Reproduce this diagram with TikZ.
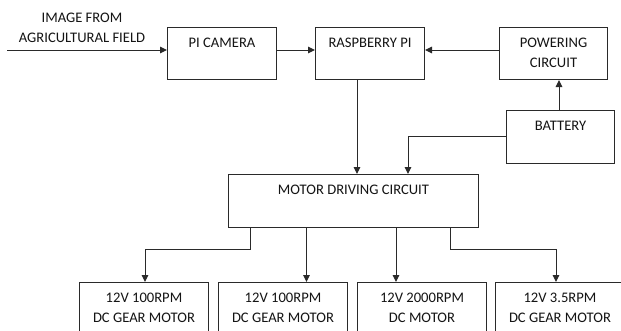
\documentclass[tikz,border=0pt]{standalone}
\usepackage{fontspec}
\setmainfont{Carlito}
\usetikzlibrary{arrows.meta}
\definecolor{ln}{HTML}{2A2A2A}
\definecolor{tx}{HTML}{141414}
\newcommand\bxtext[3]{\parbox[c][#2pt][t]{#1pt}{\centering\rule{0pt}{19.5pt}#3}}
\tikzset{
  blk/.style={draw=ln, line width=1pt, inner sep=0pt, anchor=north west, text=tx,
    font=\fontsize{14.6}{20}\selectfont},
  arr/.style={draw=ln, line width=1pt, -{Triangle[length=7pt,width=6.5pt]}},
  lbl/.style={inner sep=0pt, text=tx, align=center, font=\fontsize{14.6}{20}\selectfont}
}
\begin{document}
\begin{tikzpicture}[x=1pt,y=1pt]
\useasboundingbox (0,0) rectangle (621,-330);
\clip (0,0) rectangle (621,-330);
\fill[white] (0,0) rectangle (621,-330);
% boxes
\node[blk] (cam) at (167,-27) {\bxtext{109}{52}{PI CAMERA}};
\node[blk] (rpi) at (315,-27) {\bxtext{109}{52}{RASPBERRY PI}};
\node[blk] (pow) at (499,-27) {\bxtext{108}{52}{POWERING\\CIRCUIT}};
\node[blk] (bat) at (506,-110) {\bxtext{108}{53}{BATTERY}};
\node[blk] (mdc) at (228,-174) {\bxtext{250}{53}{MOTOR DRIVING CIRCUIT}};
\node[blk] (m1) at (79,-282) {\bxtext{129}{60}{12V 100RPM\\DC GEAR MOTOR}};
\node[blk] (m2) at (218,-282) {\bxtext{129}{60}{12V 100RPM\\DC GEAR MOTOR}};
\node[blk] (m3) at (357,-282) {\bxtext{129}{60}{12V 2000RPM\\DC MOTOR}};
\node[blk] (m4) at (495,-282) {\bxtext{129}{60}{12V 3.5RPM\\DC GEAR MOTOR}};
\node[lbl] (src) at (82,-27.5) {IMAGE FROM\\AGRICULTURAL FIELD};
% coordinates
\coordinate (in) at (7,-50);
\coordinate (r) at (357,0);
\coordinate (b) at (408,-136);
\coordinate (k1) at (250,-249);
\coordinate (t1) at (145,-249);
\coordinate (k2) at (306.5,0);
\coordinate (k3) at (396,0);
\coordinate (k4) at (450,-249);
\coordinate (t4) at (556,-249);
% connectors
\draw[arr] (in) -- (in -| cam.west);
\draw[arr] (cam.east |- in) -- (rpi.west |- in);
\draw[arr] (pow.west |- in) -- (rpi.east |- in);
\draw[arr] (bat.north -| 559,0) -- (pow.south -| 559,0);
\draw[arr] (rpi.south -| r) -- (mdc.north -| r);
\draw[arr] (bat.west |- b) -- (b) -- (b |- mdc.north);
\draw[arr] (mdc.south -| k1) -- (k1) -- (t1) -- (t1 |- m1.north);
\draw[arr] (mdc.south -| k2) -- (m2.north -| k2);
\draw[arr] (mdc.south -| k3) -- (m3.north -| k3);
\draw[arr] (mdc.south -| k4) -- (k4) -- (t4) -- (t4 |- m4.north);
\end{tikzpicture}
\end{document}
